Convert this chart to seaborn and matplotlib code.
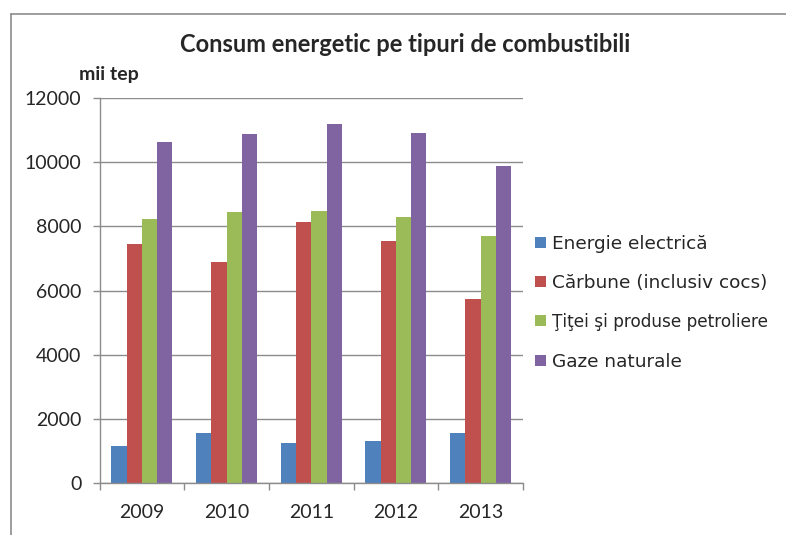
import pandas as pd
import matplotlib.pyplot as plt
import seaborn as sns

# Consumption by fuel type, thousand toe
years = ["2009", "2010", "2011", "2012", "2013"]
energie_electrica = [1160, 1560, 1260, 1310, 1560]
carbune = [7440, 6890, 8140, 7545, 5745]
titei = [8240, 8440, 8490, 8295, 7690]
gaze = [10625, 10885, 11185, 10925, 9875]

series_names = ["Energie electrică", "Cărbune (inclusiv cocs)",
                "Ţiţei şi produse petroliere", "Gaze naturale"]
colors = ["#4F81BD", "#C0504D", "#9BBB59", "#8064A2"]

rows = []
for name, vals in zip(series_names, [energie_electrica, carbune, titei, gaze]):
    for y, v in zip(years, vals):
        rows.append({"An": y, "Tip": name, "Valoare": v})
df = pd.DataFrame(rows)

sns.set_style("white")
plt.rcParams["font.family"] = ["Lato", "DejaVu Sans"]

fig = plt.figure(figsize=(7.86, 5.35), dpi=100)
ax = fig.add_axes([0.1266, 0.0972, 0.5388, 0.7196])

sns.barplot(data=df, x="An", y="Valoare", hue="Tip", palette=colors,
            width=0.72, gap=0, saturation=1, linewidth=0, ax=ax, legend=True)

# gridlines and axes styling
ax.set_ylim(0, 12000)
ax.set_yticks(range(0, 12001, 2000))
ax.set_xlim(-0.5, 4.5)
ax.yaxis.grid(True, color="#8c8c8c", linewidth=1)
ax.set_axisbelow(True)
for s in ["top", "right"]:
    ax.spines[s].set_visible(False)
for s in ["left", "bottom"]:
    ax.spines[s].set_color("#8c8c8c")
    ax.spines[s].set_linewidth(1)

ax.tick_params(axis="y", which="major", length=5, width=1, color="#8c8c8c",
               left=True, pad=8, labelsize=14)
ax.tick_params(axis="x", which="major", length=0, pad=15, labelsize=14)
ax.set_xticks([-0.5, 0.5, 1.5, 2.5, 3.5, 4.5], minor=True)
ax.tick_params(axis="x", which="minor", length=5, width=1, color="#8c8c8c",
               bottom=True)
ax.set_xlabel("")
ax.set_ylabel("")

# legend on the right
handles, labels = ax.get_legend_handles_labels()
leg = ax.legend(handles, labels, loc="center left", bbox_to_anchor=(0.66, 0.434),
                bbox_transform=fig.transFigure, frameon=False,
                prop={"family": "DejaVu Sans", "size": 13.3},
                handlelength=0.55, handleheight=0.55, handletextpad=0.35,
                labelspacing=1.15)
leg.get_texts()[2].set_fontsize(12.2)

fig.text(0.515, 0.916, "Consum energetic pe tipuri de combustibili",
         ha="center", va="center", fontsize=17, fontweight="bold")
fig.text(0.1, 0.86, "mii tep", ha="left", va="center", fontsize=14,
         fontweight="bold")

# outer frame lines (chart is cropped at right and bottom)
fig.add_artist(plt.Line2D([11 / 786, 11 / 786], [0, 1 - 13.5 / 535],
                          color="#8c8c8c", linewidth=1.2))
fig.add_artist(plt.Line2D([11 / 786, 1], [1 - 13.5 / 535, 1 - 13.5 / 535],
                          color="#8c8c8c", linewidth=1.2))

fig.savefig("out.png", dpi=100)
